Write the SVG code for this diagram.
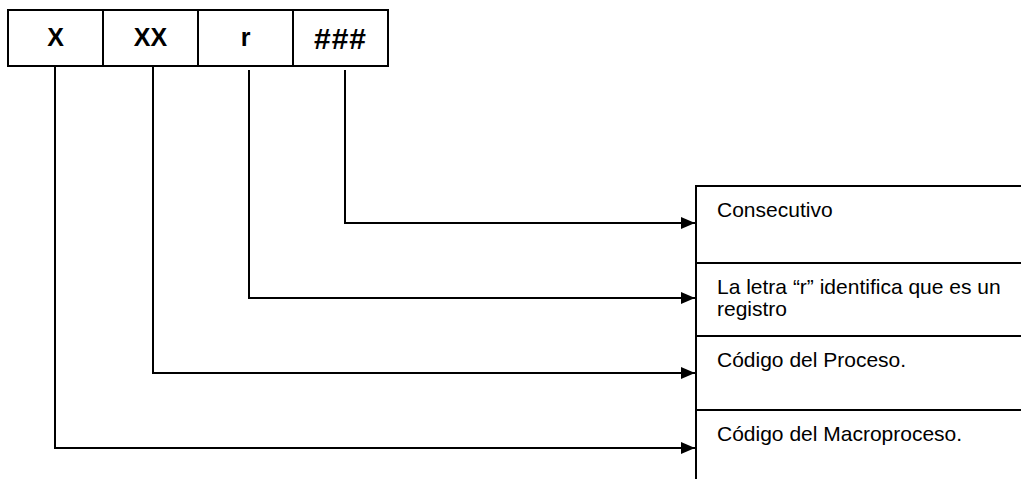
<svg xmlns="http://www.w3.org/2000/svg" width="1021" height="479" viewBox="0 0 1021 479">
<style>
.box{fill:#fff;stroke:#000;stroke-width:2}
.code{font-family:"Liberation Sans",Arial,sans-serif;font-weight:bold;font-size:25px;text-anchor:middle;fill:#000}
.lbl{font-family:"Liberation Sans",Arial,sans-serif;font-size:21px;fill:#000}
.conn{fill:none;stroke:#000;stroke-width:2}
</style>
<defs>
<marker id="arr" viewBox="0 0 14 12" refX="14" refY="6" markerWidth="14" markerHeight="12" markerUnits="userSpaceOnUse" orient="auto">
<path d="M0,0 L14,6 L0,12 Z" fill="#000"/>
</marker>
</defs>
<rect width="1021" height="479" fill="#fff"/>
<g id="code-x"><rect class="box" x="8" y="10" width="95" height="56"/><text class="code" x="55.5" y="46">X</text></g>
<g id="code-xx"><rect class="box" x="103" y="10" width="95" height="56"/><text class="code" x="150.5" y="46">XX</text></g>
<g id="code-r"><rect class="box" x="198" y="10" width="95" height="56"/><text class="code" x="245.5" y="46">r</text></g>
<g id="code-num"><rect class="box" x="293" y="10" width="95" height="56"/><text class="code" x="340.5" y="49" style="font-size:30px;letter-spacing:1px">###</text></g>
<g id="desc-consecutivo"><rect class="box" x="696" y="186" width="340" height="77"/><text class="lbl" x="717" y="217">Consecutivo</text></g>
<g id="desc-registro"><rect class="box" x="696" y="263" width="340" height="73"/><text class="lbl" x="717" y="294">La letra “r” identifica que es un</text><text class="lbl" x="717" y="316">registro</text></g>
<g id="desc-proceso"><rect class="box" x="696" y="336" width="340" height="74"/><text class="lbl" x="717" y="367">Código del Proceso.</text></g>
<g id="desc-macro"><rect class="box" x="696" y="410" width="340" height="90"/><text class="lbl" x="717" y="441">Código del Macroproceso.</text></g>
<g id="connectors">
<polyline class="conn" points="345,70 345,223 695,223" marker-end="url(#arr)"/>
<polyline class="conn" points="249,70 249,298 695,298" marker-end="url(#arr)"/>
<polyline class="conn" points="153,67 153,373 695,373" marker-end="url(#arr)"/>
<polyline class="conn" points="55,67 55,448 695,448" marker-end="url(#arr)"/>
</g>
</svg>
